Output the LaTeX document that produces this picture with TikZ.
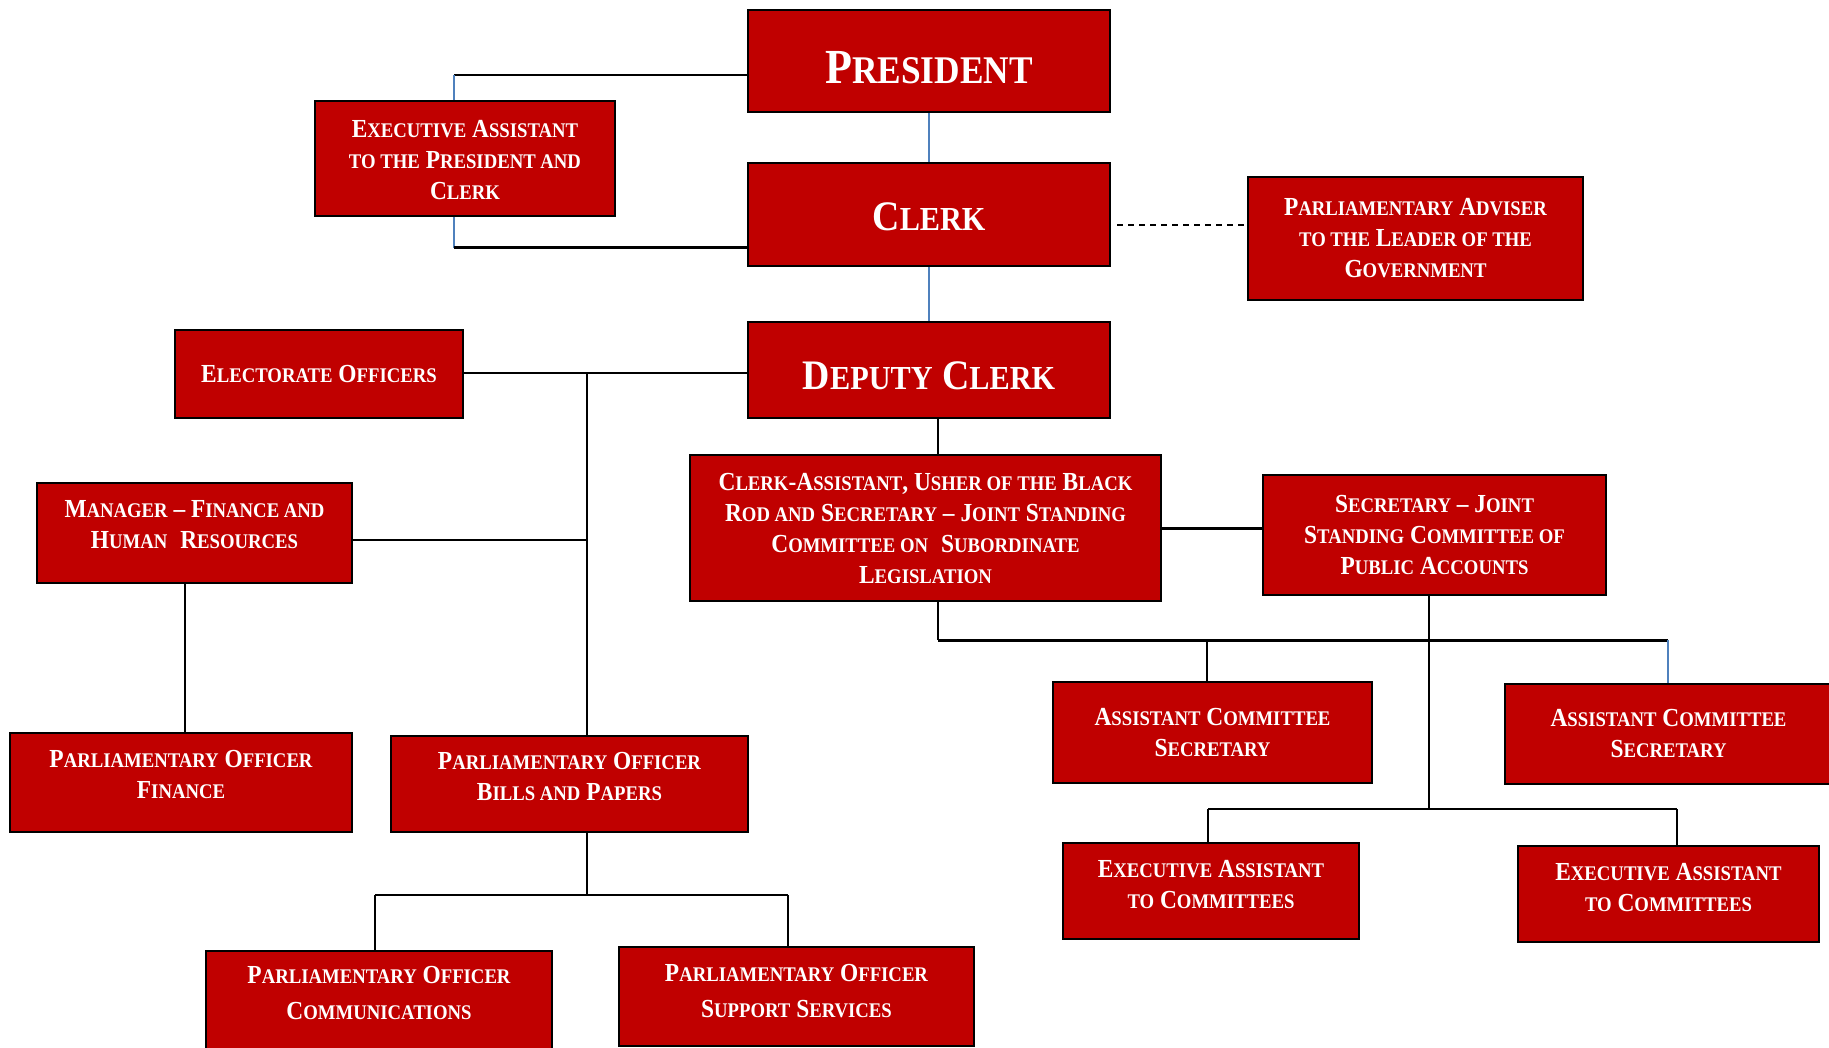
\documentclass[tikz,border=0pt]{standalone}
\usepackage{fontspec}
\setmainfont{Liberation Serif}[FakeStretch=0.9]
\definecolor{boxred}{RGB}{192,0,0}
\definecolor{linkblue}{RGB}{79,129,189}
\makeatletter
\newcommand\K[1]{{\fontsize{\fpeval{0.8*\f@size}}{\f@baselineskip}\selectfont #1}}
\makeatother
\newcommand\sh[2]{\raisebox{#1}[\height][\depth]{\begin{tabular}{@{}c@{}}#2\end{tabular}}}
\tikzset{
  orgbox/.style={draw=black, line width=2pt, fill=boxred, text=white, align=center, inner sep=0pt, font=\bfseries\fontsize{26}{31}\selectfont},
  bigbox/.style={orgbox, font=\bfseries\fontsize{49}{58}\selectfont},
  midbox/.style={orgbox, font=\bfseries\fontsize{42}{50}\selectfont},
  wide/.style={orgbox, font=\bfseries\fontsize{26}{36}\selectfont},
  link/.style={black, line width=2pt},
  thicklink/.style={black, line width=3pt},
  thinlink/.style={black, line width=1.5pt},
  bluelink/.style={linkblue, line width=1.5pt},
  dashlink/.style={black, line width=1.5pt, dash pattern=on 6pt off 5pt}
}
\newcommand\bx[7][orgbox]{\node[#1, minimum width={#5-#3}, minimum height={#6-#4}] (#2) at ({(#3+#5)/2},{(#4+#6)/2}) {#7};}
\begin{document}
\begin{tikzpicture}[x=1pt,y=-1pt]
\useasboundingbox (0,0) rectangle (1829,1048);
\fill[white] (0,0) rectangle (1829,1048);

% boxes
\bx[bigbox]{pres}{748}{10}{1110}{112}{\sh{-11pt}{P\K{RESIDENT}}}
\bx{eapc}{315}{101}{615}{216}{\sh{-4pt}{E\K{XECUTIVE} A\K{SSISTANT}\\\K{TO THE} P\K{RESIDENT AND}\\C\K{LERK}}}
\bx[midbox]{clerk}{748}{163}{1110}{266}{\sh{-6pt}{C\K{LERK}}}
\bx{adv}{1248}{177}{1583}{300}{P\K{ARLIAMENTARY} A\K{DVISER}\\\K{TO THE} L\K{EADER OF THE}\\G\K{OVERNMENT}}
\bx[midbox]{dep}{748}{322}{1110}{418}{\sh{-10pt}{D\K{EPUTY} C\K{LERK}}}
\bx{elec}{175}{330}{463}{418}{E\K{LECTORATE} O\K{FFICERS}}
\bx{mgr}{37}{483}{352}{583}{\sh{6pt}{M\K{ANAGER} – F\K{INANCE AND}\\H\K{UMAN}\enspace R\K{ESOURCES}}}
\bx{pof}{10}{733}{352}{832}{\sh{6pt}{P\K{ARLIAMENTARY} O\K{FFICER}\\F\K{INANCE}}}
\bx{pob}{391}{736}{748}{832}{\sh{5pt}{P\K{ARLIAMENTARY} O\K{FFICER}\\B\K{ILLS AND} P\K{APERS}}}
\bx[wide]{poc}{206}{951}{552}{1050}{\sh{6pt}{P\K{ARLIAMENTARY} O\K{FFICER}\\C\K{OMMUNICATIONS}}}
\bx[wide]{pos}{619}{947}{974}{1046}{\sh{4pt}{P\K{ARLIAMENTARY} O\K{FFICER}\\S\K{UPPORT} S\K{ERVICES}}}
\bx{ca}{690}{455}{1161}{601}{C\K{LERK}-A\K{SSISTANT}, U\K{SHER OF THE} B\K{LACK}\\R\K{OD AND} S\K{ECRETARY} – J\K{OINT} S\K{TANDING}\\C\K{OMMITTEE ON}\enspace S\K{UBORDINATE}\\L\K{EGISLATION}}
\bx{sec}{1263}{475}{1606}{595}{S\K{ECRETARY} – J\K{OINT}\\S\K{TANDING} C\K{OMMITTEE OF}\\P\K{UBLIC} A\K{CCOUNTS}}
\bx{acsa}{1053}{682}{1372}{783}{A\K{SSISTANT} C\K{OMMITTEE}\\S\K{ECRETARY}}
\bx{acsb}{1505}{684}{1832}{784}{A\K{SSISTANT} C\K{OMMITTEE}\\S\K{ECRETARY}}
\bx{eaca}{1063}{843}{1359}{939}{\sh{4pt}{E\K{XECUTIVE} A\K{SSISTANT}\\\K{TO} C\K{OMMITTEES}}}
\bx{eacb}{1518}{846}{1819}{942}{\sh{4pt}{E\K{XECUTIVE} A\K{SSISTANT}\\\K{TO} C\K{OMMITTEES}}}

% junction coordinates
\coordinate (jA) at (454,75);
\coordinate (jB) at (454,248);
\coordinate (jD) at (1117,225);
\coordinate (jT) at (587,373);
\coordinate (jM) at (587,540);
\coordinate (jP) at (587,895);
\coordinate (jPL) at (375,895);
\coordinate (jPR) at (788,895);
\coordinate (jC) at (938,640);
\coordinate (jC1) at (1207,640);
\coordinate (jC2) at (1668,640);
\coordinate (jS) at (1429,809);
\coordinate (jS1) at (1208,809);
\coordinate (jS2) at (1677,809);

% connectors
\draw[link] (pres.west |- jA) -- (jA);
\draw[bluelink] (jA) -- (eapc.north -| jA);
\draw[bluelink] (eapc.south -| jB) -- (jB);
\draw[thicklink] (jB) -- (clerk.west |- jB);
\draw[bluelink] (pres.south) -- (clerk.north);
\draw[bluelink] (clerk.south) -- (dep.north);
\draw[dashlink] (jD) -- (adv.west |- jD);
\draw[link] (elec.east |- jT) -- (dep.west |- jT);
\draw[link] (jT) -- (pob.north -| jT);
\draw[link] (mgr.east |- jM) -- (jM);
\draw[link] (mgr.south -| 185,0) -- (pof.north -| 185,0);
\draw[link] (pob.south -| jP) -- (jP);
\draw[link] (jPL) -- (jPR);
\draw[link] (jPL) -- (poc.north -| jPL);
\draw[link] (jPR) -- (pos.north -| jPR);
\draw[link] (dep.south -| jC) -- (ca.north -| jC);
\draw[thicklink] (ca.east |- 0,528) -- (sec.west |- 0,528);
\draw[link] (ca.south -| jC) -- (jC);
\draw[thicklink] (jC) -- (jC2);
\draw[link] (jC1) -- (acsa.north -| jC1);
\draw[bluelink] (jC2) -- (acsb.north -| jC2);
\draw[thinlink] (sec.south -| jS) -- (jS);
\draw[link] (jS1) -- (jS2);
\draw[link] (jS1) -- (eaca.north -| jS1);
\draw[link] (jS2) -- (eacb.north -| jS2);
\end{tikzpicture}
\end{document}
